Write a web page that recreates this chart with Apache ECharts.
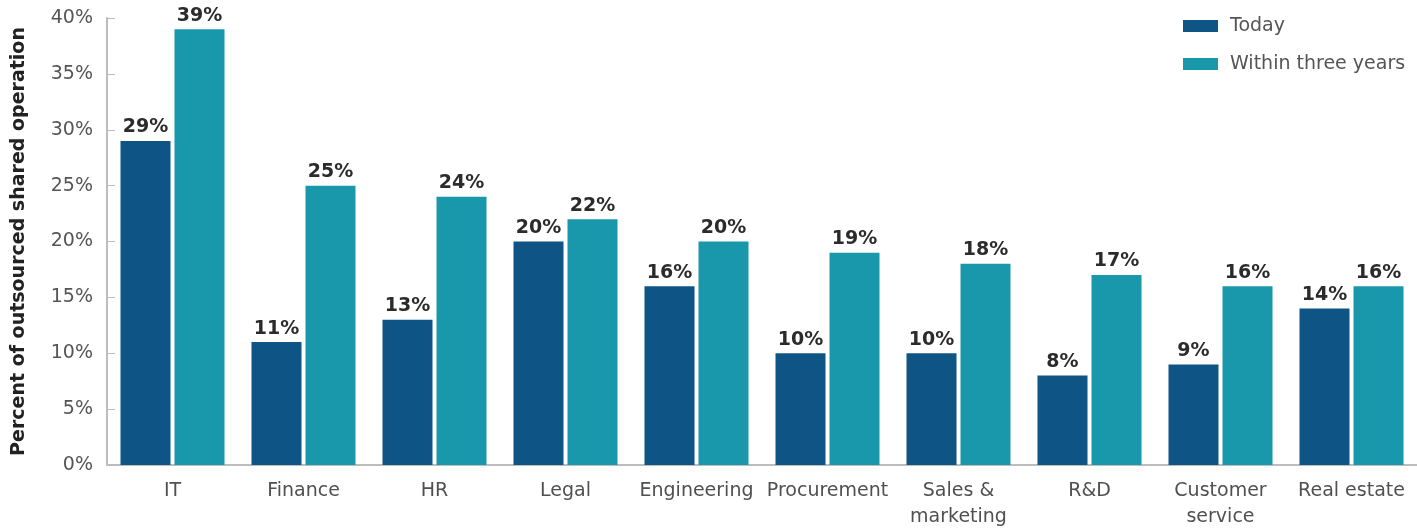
<!DOCTYPE html>
<html>
<head>
<meta charset="utf-8">
<script src="https://cdn.jsdelivr.net/npm/echarts@6/dist/echarts.min.js"></script>
<style>
  html, body { margin: 0; padding: 0; background: #fff; }
  #chart { width: 1417px; height: 530px; }
</style>
</head>
<body>
<div id="chart"></div>
<script>
// Functions and their share of outsourced shared operations
const categories = ['IT', 'Finance', 'HR', 'Legal', 'Engineering', 'Procurement', 'Sales &\nmarketing', 'R&D', 'Customer\nservice', 'Real estate'];
const today = [29, 11, 13, 20, 16, 10, 10, 8, 9, 14];
const withinThreeYears = [39, 25, 24, 22, 20, 19, 18, 17, 16, 16];
const yTicks = [0, 5, 10, 15, 20, 25, 30, 35, 40];

const font = '"DejaVu Sans", "Open Sans", sans-serif';
const chart = echarts.init(document.getElementById('chart'));

const labelStyle = {
  show: true,
  position: 'top',
  distance: 4,
  formatter: p => p.value + '%',
  color: '#2b2b2b',
  fontFamily: font,
  fontWeight: 'bold',
  fontSize: 19
};

chart.setOption({
  animation: false,
  grid: { left: 107, right: 0, top: 18, bottom: 65 },
  legend: {
    orient: 'vertical',
    left: 1178,
    top: 11,
    icon: 'rect',
    itemWidth: 35,
    itemHeight: 12,
    itemGap: 18,
    textStyle: { fontFamily: font, fontSize: 19, color: '#555', lineHeight: 20, padding: [0, 0, 0, 7] },
    data: ['Today', 'Within three years']
  },
  xAxis: {
    type: 'category',
    data: categories,
    axisLine: { lineStyle: { color: '#bdbdbd', width: 2 } },
    axisTick: { inside: true, length: 8, lineStyle: { color: '#bdbdbd' } },
    axisLabel: { fontFamily: font, fontSize: 19, color: '#505050', margin: 13, lineHeight: 26, interval: 0 }
  },
  yAxis: {
    type: 'value',
    min: 0,
    max: 40,
    interval: 5,
    name: 'Percent of outsourced shared operation',
    nameLocation: 'middle',
    nameGap: 78,
    nameTextStyle: { fontFamily: font, fontSize: 19, fontWeight: 'bold', color: '#222' },
    axisLine: { show: true, lineStyle: { color: '#bdbdbd', width: 2 } },
    axisTick: { show: true, inside: true, length: 8, lineStyle: { color: '#bdbdbd' } },
    splitLine: { show: false },
    axisLabel: {
      fontFamily: font, fontSize: 19, color: '#555', margin: 14,
      formatter: v => (yTicks.includes(v) ? v + '%' : '')
    }
  },
  series: [
    {
      name: 'Today',
      type: 'bar',
      data: today,
      barWidth: 50,
      barGap: '8%',
      itemStyle: { color: '#0e5585' },
      label: labelStyle
    },
    {
      name: 'Within three years',
      type: 'bar',
      data: withinThreeYears,
      barWidth: 50,
      itemStyle: { color: '#1a98ab' },
      label: labelStyle
    }
  ]
});
</script>
</body>
</html>
